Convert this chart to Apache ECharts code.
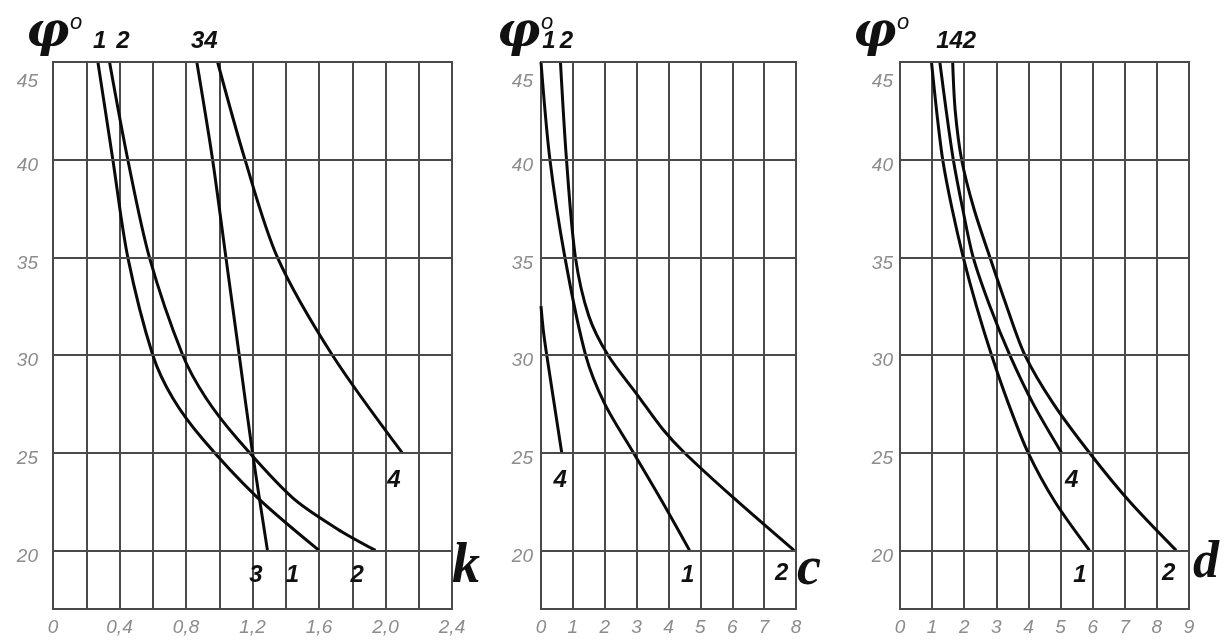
<!DOCTYPE html>
<html><head><meta charset="utf-8">
<script src="https://cdn.jsdelivr.net/npm/echarts@6/dist/echarts.min.js"></script>
<style>html,body{margin:0;padding:0;background:#fff}#c{width:1226px;height:641px}</style>
</head><body><div id="c"></div>
<script>
// ---- data ----
const phiTicks = [20, 25, 30, 35, 40, 45];
const kTickVals = [0, 0.4, 0.8, 1.2, 1.6, 2.0, 2.4];
const kTickLabels = ['0', '0,4', '0,8', '1,2', '1,6', '2,0', '2,4'];
const cTickVals = [0, 1, 2, 3, 4, 5, 6, 7, 8];
const dTickVals = [0, 1, 2, 3, 4, 5, 6, 7, 8, 9];

// panel k : [k, phi]
const k1 = [[0.27,45],[0.36,40],[0.45,35],[0.6,30],[0.72,27.8],[0.9,25.7],[1.23,22.7],[1.6,20]];
const k2 = [[0.34,45],[0.45,40],[0.58,35],[0.78,30],[0.92,27.8],[1.11,25.7],[1.44,22.7],[1.71,21.1],[1.94,20]];
const k3 = [[0.865,45],[0.96,40],[1.04,35],[1.12,30],[1.2,25],[1.29,20]];
const k4 = [[0.99,45],[1.155,40],[1.35,35],[1.68,30],[2.1,25]];
// panel c : [c, phi]
const c1 = [[0,45],[0.28,40],[0.75,35],[1.4,30],[2.0,27.5],[2.9,25],[3.8,22.5],[4.66,20]];
const c2 = [[0.61,45],[0.8,40],[1.08,35],[1.5,32],[2.1,30],[3.05,27.9],[3.82,26.2],[4.5,25],[6.0,22.75],[7.94,20]];
const c4 = [[0,32.5],[0.07,31.3],[0.18,30],[0.65,25]];
// panel d : [d, phi]
const d1 = [[0.98,45],[1.14,42.5],[1.33,40],[1.62,37.5],[1.97,35],[2.38,32.5],[2.85,30],[3.38,27.5],[3.99,25],[4.82,22.5],[5.9,20]];
const d4 = [[1.24,45],[1.44,42.5],[1.66,40],[1.95,37.5],[2.28,35],[2.8,32.5],[3.42,30],[4.15,27.5],[5.03,25]];
const d2 = [[1.64,45],[1.72,42.5],[1.92,40],[2.3,37.5],[2.8,35],[3.32,32.5],[3.89,30],[4.78,27.5],[5.9,25],[7.15,22.5],[8.6,20]];

// curve number labels: [text, x, phi, place]  place: 'top' above top edge, 'at' at point
const kNotes = [['1',0.28,45,'top'],['2',0.42,45,'top'],['34',0.91,45,'top'],['3',1.22,18.7,'at'],['1',1.44,18.7,'at'],['2',1.83,18.7,'at'],['4',2.05,23.6,'at']];
const cNotes = [['1',0.25,45,'top'],['2',0.8,45,'top'],['1',4.6,18.7,'at'],['2',7.55,18.8,'at'],['4',0.6,23.6,'at']];
const dNotes = [['142',1.75,45,'top'],['1',5.6,18.7,'at'],['2',8.37,18.8,'at'],['4',5.35,23.6,'at']];

// ---- styles ----
const GRID_C = '#4a4a4a';
const labelFont = {color:'#8c8c8c', fontStyle:'italic', fontFamily:'Liberation Sans', fontSize:19};
const noteStyle = {fontFamily:'Liberation Sans', fontStyle:'italic', fontWeight:'bold', fontSize:24, color:'#111'};

const grids = [
  {left:53, top:62, width:399, height:547},
  {left:541, top:62, width:255, height:547},
  {left:900, top:62, width:289, height:547}
];
const xSpecs = [
  {max:2.4, interval:0.2, vals:kTickVals, fmt:v => { const i = kTickVals.findIndex(t => Math.abs(t - v) < 1e-6); return i >= 0 ? kTickLabels[i] : ''; }},
  {max:8, interval:1, vals:cTickVals, fmt:v => String(v)},
  {max:9, interval:1, vals:dTickVals, fmt:v => String(v)}
];

const xAxes = xSpecs.map((s, i) => ({
  type:'value', gridIndex:i, min:0, max:s.max, interval:s.interval,
  axisLine:{show:true, onZero:false, lineStyle:{color:GRID_C, width:2}},
  axisTick:{show:false},
  splitLine:{show:true, lineStyle:{color:GRID_C, width:2}},
  axisLabel:Object.assign({customValues:s.vals, formatter:s.fmt, margin:9}, labelFont)
}));
const yMargins = [15, 8, 7];
const yAxes = [0,1,2].map(i => ({
  type:'value', gridIndex:i, min:17, max:45,
  axisLine:{show:true, lineStyle:{color:GRID_C, width:2}},
  axisTick:{show:false},
  splitLine:{show:false},
  axisLabel:{
    customValues:phiTicks, margin:yMargins[i],
    formatter:v => v === 45 ? '{t|45}' : '{n|' + v + '}',
    rich:{
      n:Object.assign({padding:[12,0,0,0]}, labelFont),
      t:Object.assign({padding:[40,0,0,0]}, labelFont)
    }
  }
}));

function hLines() {
  return {
    silent:true, symbol:['none','none'], label:{show:false},
    lineStyle:{color:GRID_C, width:2, type:'solid'},
    data:phiTicks.map(v => ({yAxis:v}))
  };
}
function notes(list) {
  return {
    symbol:'circle', symbolSize:1, itemStyle:{color:'rgba(0,0,0,0)'}, silent:true,
    data:list.map(n => ({
      coord:[n[1], n[2]], value:n[0],
      label:Object.assign({show:true, position:'inside', formatter:n[0], offset:n[3]==='top' ? [0,-21] : [0,0]}, noteStyle)
    }))
  };
}
function curve(data, gi, extra) {
  return Object.assign({
    type:'line', xAxisIndex:gi, yAxisIndex:gi, data:data, smooth:0.3,
    showSymbol:false, symbol:'none', animation:false, clip:false,
    lineStyle:{color:'#0a0a0a', width:3}
  }, extra || {});
}

const series = [
  curve(k1, 0, {markLine:hLines(), markPoint:notes(kNotes)}), curve(k2, 0), curve(k3, 0), curve(k4, 0),
  curve(c1, 1, {markLine:hLines(), markPoint:notes(cNotes)}), curve(c2, 1), curve(c4, 1),
  curve(d1, 2, {markLine:hLines(), markPoint:notes(dNotes)}), curve(d4, 2), curve(d2, 2)
];

function phiLabel(x) {
  return [
    {type:'text', left:x, top:10, style:{text:'φ', font:'bold italic 48px "DejaVu Serif"', fill:'#111'}},
    {type:'text', left:x + 44, top:12, style:{text:'o', font:'italic 22px "Liberation Sans"', fill:'#111'}}
  ];
}
const graphic = [].concat(
  phiLabel(26), phiLabel(497), phiLabel(853),
  [
    {type:'text', left:452, top:540, style:{text:'k', font:'bold italic 56px "Liberation Serif"', fill:'#111'}},
    {type:'text', left:797, top:543, style:{text:'c', font:'bold italic 54px "Liberation Serif"', fill:'#111'}},
    {type:'text', left:1193, top:538, style:{text:'d', font:'bold italic 52px "Liberation Serif"', fill:'#111'}}
  ]
);

const chart = echarts.init(document.getElementById('c'), null, {renderer:'canvas'});
chart.setOption({
  backgroundColor:'#ffffff',
  animation:false,
  grid:grids.map(g => Object.assign({show:true, borderColor:GRID_C, borderWidth:2, backgroundColor:'transparent'}, g)),
  xAxis:xAxes,
  yAxis:yAxes,
  series:series,
  graphic:graphic
});
</script>
</body></html>
